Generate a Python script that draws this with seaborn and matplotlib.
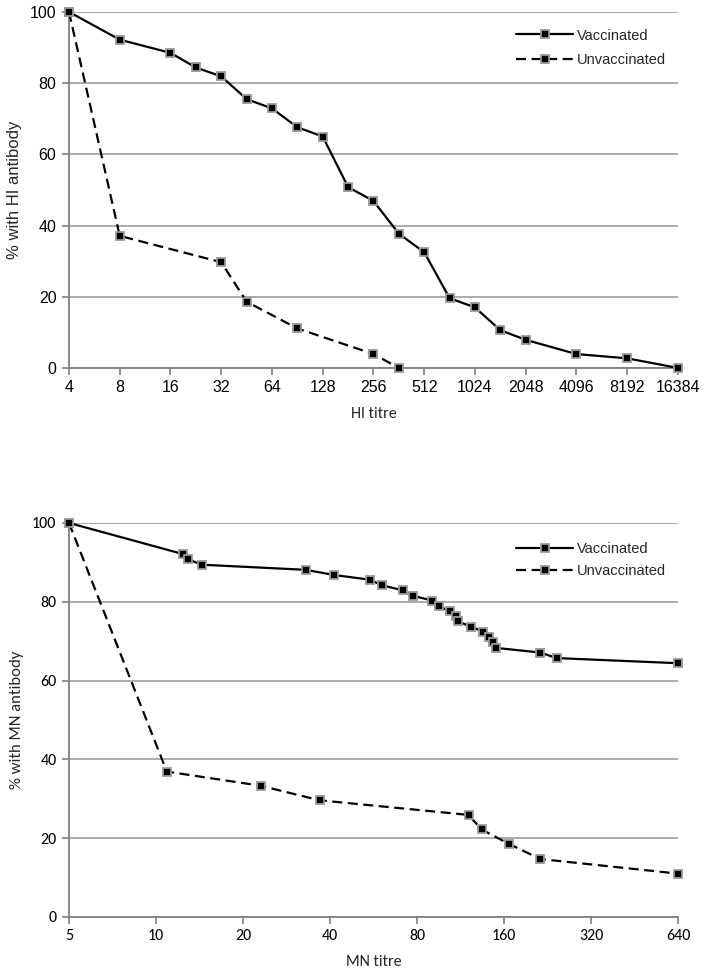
# HI and MN titre survival curves, vaccinated vs unvaccinated
import numpy as np
import pandas as pd
import matplotlib
matplotlib.use('Agg')
import matplotlib.pyplot as plt
from matplotlib import font_manager as fm
import seaborn as sns

# top panel - HI titre
hi_vacc_x = [4, 8, 16, 22.6, 32, 45.3, 64, 90.5, 128, 181, 256, 362, 512, 724, 1024, 1448, 2048, 4096, 8192, 16384]
hi_vacc_y = [100, 92.2, 88.5, 84.4, 81.9, 75.5, 72.9, 67.6, 65.0, 50.8, 46.9, 37.7, 32.5, 19.6, 17.0, 10.6, 7.9, 3.9, 2.7, 0]
hi_unvacc_x = [4, 8, 32, 45.3, 90.5, 256, 362]
hi_unvacc_y = [100, 37.1, 29.7, 18.6, 11.1, 3.9, 0]
hi_ticks = [4, 8, 16, 32, 64, 128, 256, 512, 1024, 2048, 4096, 8192, 16384]

# bottom panel - MN titre
mn_vacc_x = [5, 12.4, 12.9, 14.4, 33.0, 41.2, 55.0, 60.4, 71.4, 77.5, 90.4, 95.3, 103.8, 109.2,
             110.9, 123.0, 135.7, 142.3, 146.2, 149.8, 213.8, 243.5, 640]
mn_vacc_y = [100, 92.1, 90.8, 89.4, 88.1, 86.8, 85.6, 84.2, 82.9, 81.5, 80.3, 78.9, 77.6, 76.4,
             75.0, 73.7, 72.4, 71.1, 69.8, 68.3, 67.1, 65.7, 64.4]
mn_unvacc_x = [5, 10.9, 23.0, 36.9, 120.7, 133.9, 166.9, 213.8, 640]
mn_unvacc_y = [100, 36.9, 33.3, 29.6, 25.9, 22.2, 18.5, 14.7, 11.0]
mn_ticks = [5, 10, 20, 40, 80, 160, 320, 640]

yticks = [0, 20, 40, 60, 80, 100]

# Calibri look-alike for the bits that aren't Arial
installed = set(f.name for f in fm.fontManager.ttflist)
calib = 'Carlito' if 'Carlito' in installed else 'Lato'

sns.set_style('white')
plt.rcParams['font.family'] = ['Liberation Sans', 'DejaVu Sans']

fig = plt.figure(figsize=(7.06, 9.76), dpi=100)
ax1 = fig.add_axes([0.0977, 0.623, 0.8626, 0.3648])
ax2 = fig.add_axes([0.0977, 0.0605, 0.8626, 0.4037])

line_kw = dict(color='black', linewidth=1.6, marker='s', markersize=6,
               markerfacecolor='black', markeredgecolor='#9a9a9a', markeredgewidth=1.3,
               clip_on=False, zorder=5)


def draw_panel(ax, vx, vy, ux, uy, ticks, xlabel, ylabel, tick_font, xlab_font, ylab_font,
               leg_y, leg_space):
    sns.lineplot(x=vx, y=vy, ax=ax, label='Vaccinated', linestyle='-', **line_kw)
    sns.lineplot(x=ux, y=uy, ax=ax, label='Unvaccinated', linestyle=(0, (4.5, 2.5)), **line_kw)
    ax.set_xscale('log', base=2)
    ax.set_xlim(ticks[0], ticks[-1])
    ax.set_ylim(0, 100)
    ax.set_xticks(ticks)
    ax.set_xticklabels([str(t) for t in ticks], fontsize=11.5, family=tick_font)
    ax.xaxis.set_minor_locator(matplotlib.ticker.NullLocator())
    ax.set_yticks(yticks)
    ax.set_yticklabels([str(t) for t in yticks], fontsize=11.5, family=tick_font)
    ax.yaxis.grid(True, color='#a6a6a6', linewidth=1.3)
    ax.xaxis.grid(False)
    ax.set_axisbelow(True)
    for s in ['top', 'right']:
        ax.spines[s].set_visible(False)
    for s in ['left', 'bottom']:
        ax.spines[s].set_color('#7f7f7f')
        ax.spines[s].set_linewidth(1.3)
    ax.tick_params(axis='both', direction='out', length=5, width=1.2, color='#7f7f7f',
                   bottom=True, left=True, pad=4, labelcolor='black')
    ax.set_xlabel(xlabel, fontsize=11.5, family=xlab_font, labelpad=8)
    ax.set_ylabel(ylabel, fontsize=12, family=ylab_font, labelpad=6)
    leg = ax.legend(loc='upper right', bbox_to_anchor=(1.002, leg_y), frameon=False,
                    fontsize=10.5, handlelength=3.9, handletextpad=0.25,
                    labelspacing=leg_space, numpoints=1)
    for h in leg.legend_handles:
        h.set_markersize(5.5)
    return leg


draw_panel(ax1, hi_vacc_x, hi_vacc_y, hi_unvacc_x, hi_unvacc_y, hi_ticks,
           'HI titre', '% with HI antibody', 'Liberation Sans', calib, 'Liberation Sans', 0.99, 0.72)
draw_panel(ax2, mn_vacc_x, mn_vacc_y, mn_unvacc_x, mn_unvacc_y, mn_ticks,
           'MN titre', '% with MN antibody', calib, calib, calib, 0.984, 0.52)

fig.savefig('out.png', dpi=100)
